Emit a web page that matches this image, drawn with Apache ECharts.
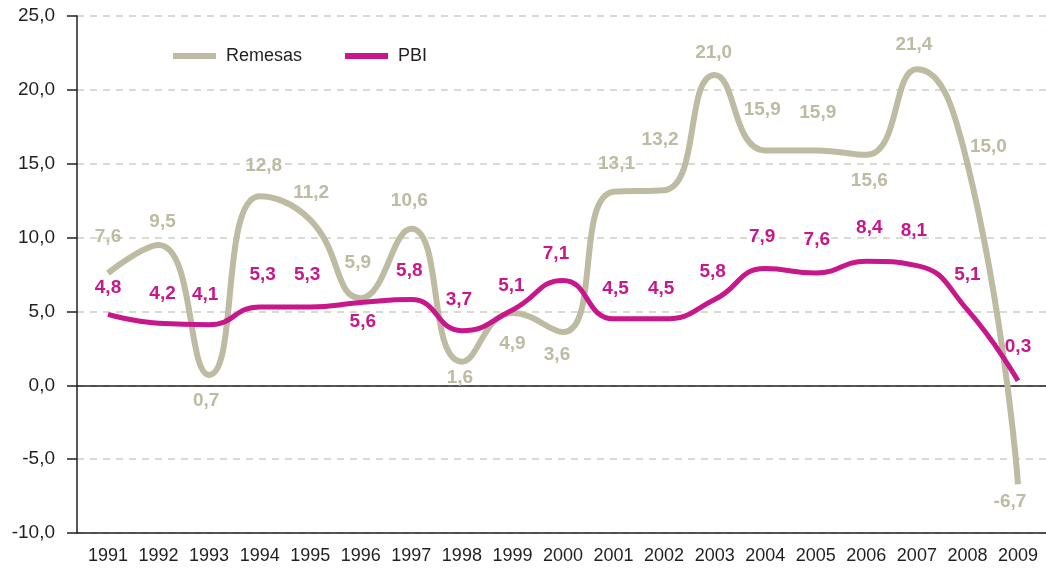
<!DOCTYPE html>
<html>
<head>
<meta charset="utf-8">
<script src="https://cdn.jsdelivr.net/npm/echarts@6/dist/echarts.min.js"></script>
<style>
  html, body { margin: 0; padding: 0; background: #ffffff; }
  #chart { width: 1046px; height: 569px; }
</style>
</head>
<body>
<div id="chart"></div>
<script>
// ---- data ----
const years = [1991, 1992, 1993, 1994, 1995, 1996, 1997, 1998, 1999, 2000,
               2001, 2002, 2003, 2004, 2005, 2006, 2007, 2008, 2009];
const remesas = [7.6, 9.5, 0.7, 12.8, 11.2, 5.9, 10.6, 1.6, 4.9, 3.6,
                 13.1, 13.2, 21.0, 15.9, 15.9, 15.6, 21.4, 15.0, -6.7];
const pbi = [4.8, 4.2, 4.1, 5.3, 5.3, 5.6, 5.8, 3.7, 5.1, 7.1,
             4.5, 4.5, 5.8, 7.9, 7.6, 8.4, 8.1, 5.1, 0.3];

// ---- label placement (style only) ----
const remOffsets = [[0,-36],[4,-23],[-3,26],[4,-30],[1,-27],[-3,-35],[-2,-28],[-2,16],[0,31],[-6,23],
                    [3,-28],[-4,-51],[-1,-22],[-3,-41],[2,-38],[3,26],[-3,-24],[21,-17],[-8,18]];
const pbiOffsets = [[0,-27],[4,-29],[-4,-30],[3,-32],[-3,-32],[2,19],[-2,-29],[-3,-31],[-1,-24],[-7,-27],
                    [2,-30],[-3,-30],[-2,-28],[-3,-32],[1,-33],[3,-33],[-3,-35],[0,-35],[0,-34]];

const REM_COLOR = '#bdbba1';
const PBI_COLOR = '#c8178a';
const TEXT = '#231f20';
const FONT = "'Liberation Sans', Arial, sans-serif";

const fmt = v => v.toFixed(1).replace('.', ',');

function build(values, offsets) {
  return values.map((v, i) => ({
    value: [years[i], v],
    label: { offset: offsets[i] }
  }));
}

const chart = echarts.init(document.getElementById('chart'), null, { renderer: 'canvas' });

const labelBase = (color) => ({
  show: true,
  position: 'inside',
  color: color,
  fontFamily: FONT,
  fontWeight: 'bold',
  fontSize: 19,
  formatter: p => fmt(p.value[1])
});

chart.setOption({
  animation: false,
  backgroundColor: '#ffffff',
  grid: { left: 77, right: 0, top: 16, bottom: 36, containLabel: false },
  legend: {
    left: 168,
    top: 42,
    icon: 'rect',
    itemWidth: 43,
    itemHeight: 6,
    itemGap: 43,
    textStyle: { fontFamily: FONT, fontSize: 18, color: TEXT, padding: [0, 0, 0, 5] },
    data: ['Remesas', 'PBI']
  },
  xAxis: {
    type: 'value',
    min: 1990.387,
    max: 2009.554,
    axisLine: { show: true, onZero: false, lineStyle: { color: TEXT, width: 1.5 } },
    axisTick: { show: false },
    splitLine: { show: false },
    axisLabel: {
      customValues: years,
      formatter: v => String(Math.round(v)),
      fontFamily: FONT,
      fontSize: 18,
      color: TEXT,
      margin: 14
    }
  },
  yAxis: {
    type: 'value',
    min: -10,
    max: 25,
    interval: 5,
    axisLine: { show: true, lineStyle: { color: TEXT, width: 1.5 } },
    axisTick: { show: true, length: 10, lineStyle: { color: TEXT, width: 1.5 } },
    splitLine: { show: true, lineStyle: { color: '#c9d1c4', type: [7, 6], width: 1.5 } },
    axisLabel: {
      formatter: v => fmt(v),
      fontFamily: FONT,
      fontSize: 19,
      color: TEXT,
      margin: 22
    }
  },
  series: [
    {
      name: 'Remesas',
      type: 'line',
      smooth: 0.5,
      symbol: 'circle',
      symbolSize: 0,
      showSymbol: true,
      color: REM_COLOR,
      lineStyle: { color: REM_COLOR, width: 6 },
      label: labelBase(REM_COLOR),
      data: build(remesas, remOffsets),
      z: 3,
      markLine: {
        silent: true,
        symbol: ['none', 'none'],
        label: { show: false },
        lineStyle: { color: TEXT, type: 'solid', width: 1.5 },
        data: [{ yAxis: 0 }],
        z: 1
      }
    },
    {
      name: 'PBI',
      type: 'line',
      smooth: 0.5,
      symbol: 'circle',
      symbolSize: 0,
      showSymbol: true,
      color: PBI_COLOR,
      lineStyle: { color: PBI_COLOR, width: 5 },
      label: labelBase(PBI_COLOR),
      data: build(pbi, pbiOffsets),
      z: 4
    }
  ]
});
</script>
</body>
</html>
